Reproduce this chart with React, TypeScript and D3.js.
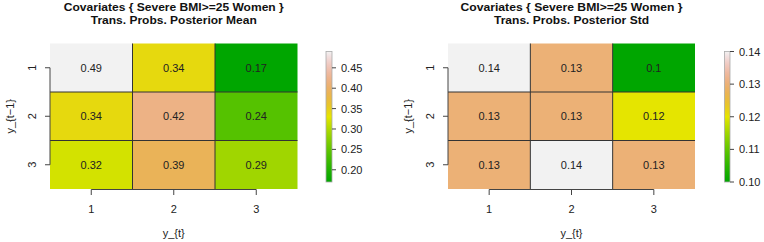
import * as d3 from 'd3';

const rowLabels = ['1', '2', '3'];
const colLabels = ['1', '2', '3'];

const meanValues = [
  [0.49, 0.34, 0.17],
  [0.34, 0.42, 0.24],
  [0.32, 0.39, 0.29],
];
const stdValues = [
  [0.14, 0.13, 0.10],
  [0.13, 0.13, 0.12],
  [0.13, 0.14, 0.13],
];

const meanTicks = [0.2, 0.25, 0.3, 0.35, 0.4, 0.45];
const stdTicks = [0.1, 0.11, 0.12, 0.13, 0.14];

const titleLine1 = 'Covariates { Severe BMI>=25 Women }';

// R's terrain.colors as a continuous ramp, t in [0,1]
function terrain(t: number) {
  t = Math.max(0, Math.min(1, t));
  let h, s, v;
  if (t <= 0.5) {
    const u = t / 0.5;
    h = 120 - 60 * u;
    s = 1;
    v = 0.65 + 0.25 * u;
  } else {
    const u = (t - 0.5) / 0.5;
    h = 60 - 60 * u;
    s = 1 - u;
    v = 0.9 + 0.05 * u;
  }
  const c = v * s;
  const x = c * (1 - Math.abs(((h / 60) % 2) - 1));
  const m = v - c;
  let r = 0, g = 0;
  if (h >= 60) { r = x; g = c; } else { r = c; g = x; }
  return d3.rgb((r + m) * 255, (g + m) * 255, m * 255).formatHex();
}

const font = '"Liberation Sans", Arial, sans-serif';

function Panel({ id, left, right, cbX, cbW, values, ticks, subtitle, fmt, w1, w2 }) {
  const top = 43.5;
  const bottom = 189;
  const cbTop = 51.5;
  const cbBottom = 182;
  const flat = values.flat();
  const lo = d3.min(flat);
  const hi = d3.max(flat);

  const x = d3.scaleBand().domain(colLabels).range([left, right]);
  const y = d3.scaleBand().domain(rowLabels).range([top, bottom]);
  const color = d3.scaleLinear().domain([lo, hi]).range([0, 1]);
  const cb = d3.scaleLinear().domain([lo, hi]).range([cbBottom, cbTop]);

  const stops = d3.range(0, 1.0001, 0.02);
  const cx = (left + right) / 2;
  const axisColor = '#444';

  return (
    <g fontFamily={font}>
      <defs>
        <linearGradient id={id} x1="0" y1="1" x2="0" y2="0">
          {stops.map((s) => (
            <stop key={s} offset={s} stopColor={terrain(s)} />
          ))}
        </linearGradient>
      </defs>
      <text x={cx} y={11.3} textAnchor="middle" fontSize={11.2} fontWeight="bold" fill="#111"
        textLength={w1} lengthAdjust="spacingAndGlyphs">{titleLine1}</text>
      <text x={cx} y={24.1} textAnchor="middle" fontSize={11.2} fontWeight="bold" fill="#111"
        textLength={w2} lengthAdjust="spacingAndGlyphs">{subtitle}</text>

      {values.map((row, i) =>
        row.map((val, j) => (
          <rect key={`${i}-${j}`} x={x(colLabels[j])} y={y(rowLabels[i])} width={x.bandwidth()} height={y.bandwidth()}
            fill={terrain(color(val))} />
        ))
      )}
      {[1, 2].map((k) => (
        <line key={`v${k}`} x1={left + k * x.bandwidth()} x2={left + k * x.bandwidth()} y1={top} y2={bottom} stroke="#333" strokeWidth={1} />
      ))}
      {[1, 2].map((k) => (
        <line key={`h${k}`} x1={left} x2={right} y1={top + k * y.bandwidth()} y2={top + k * y.bandwidth()} stroke="#333" strokeWidth={1} />
      ))}
      {values.map((row, i) =>
        row.map((val, j) => (
          <text key={`t${i}-${j}`} x={x(colLabels[j]) + x.bandwidth() / 2} y={y(rowLabels[i]) + y.bandwidth() / 2}
            textAnchor="middle" dominantBaseline="central" fontSize={11} fill="#222">{fmt(val)}</text>
        ))
      )}

      {/* x axis */}
      <line x1={x('1') + x.bandwidth() / 2} x2={x('3') + x.bandwidth() / 2} y1={189.5} y2={189.5} stroke={axisColor} />
      {colLabels.map((c) => (
        <g key={`xt${c}`}>
          <line x1={x(c) + x.bandwidth() / 2} x2={x(c) + x.bandwidth() / 2} y1={189.5} y2={195} stroke={axisColor} />
          <text x={x(c) + x.bandwidth() / 2} y={213} textAnchor="middle" fontSize={11} fill="#222">{c}</text>
        </g>
      ))}
      <text x={cx} y={237} textAnchor="middle" fontSize={11} fill="#222">y_{'{t}'}</text>

      {/* y axis */}
      <line x1={left} x2={left} y1={y('1') + y.bandwidth() / 2} y2={y('3') + y.bandwidth() / 2} stroke={axisColor} />
      {rowLabels.map((r) => {
        const yy = y(r) + y.bandwidth() / 2;
        return (
          <g key={`yt${r}`}>
            <line x1={left - 5} x2={left} y1={yy} y2={yy} stroke={axisColor} />
            <text transform={`translate(${left - 18},${yy}) rotate(-90)`} textAnchor="middle" dominantBaseline="central" fontSize={11} fill="#222">{r}</text>
          </g>
        );
      })}
      <text transform={`translate(${left - 40},${(top + bottom) / 2}) rotate(-90)`} textAnchor="middle" dominantBaseline="central" fontSize={11} fill="#222">y_{'{t−1}'}</text>

      {/* colour bar */}
      <rect x={cbX} y={cbTop} width={cbW} height={cbBottom - cbTop} fill={`url(#${id})`} stroke="#aaa" strokeWidth={0.8} />
      {ticks.map((t) => (
        <g key={`cb${t}`}>
          <line x1={cbX + cbW} x2={cbX + cbW + 4} y1={cb(t)} y2={cb(t)} stroke={axisColor} />
          <text x={cbX + cbW + 9} y={cb(t)} dominantBaseline="central" fontSize={11} fill="#222">{t.toFixed(2)}</text>
        </g>
      ))}
    </g>
  );
}

export default function App() {
  return (
    <svg width={764} height={242} style={{ position: 'absolute', left: 0, top: 0, background: '#fff' }}>
      <rect width={764} height={242} fill="#fff" />
      <Panel id="gradMean" left={50} right={297.5} cbX={326} cbW={6} values={meanValues} ticks={meanTicks}
        subtitle="Trans. Probs. Posterior Mean" fmt={(v) => v.toFixed(2)} w1={220} w2={166} />
      <Panel id="gradStd" left={448} right={695} cbX={724.5} cbW={5.5} values={stdValues} ticks={stdTicks}
        subtitle="Trans. Probs. Posterior Std" fmt={(v) => String(+v.toFixed(2))} w1={222} w2={155} />
    </svg>
  );
}
